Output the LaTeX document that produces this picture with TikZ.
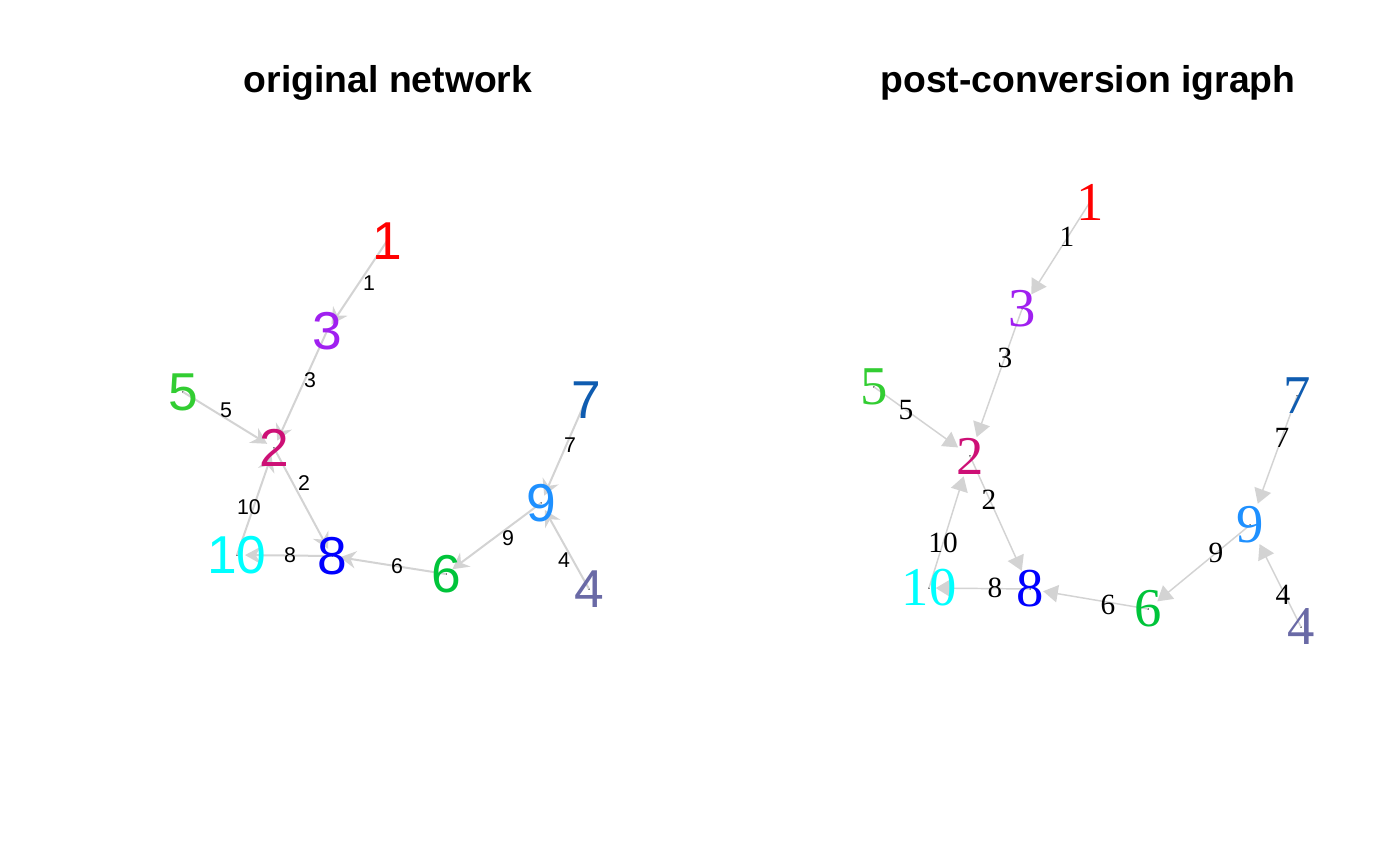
\documentclass[tikz,border=0pt]{standalone}
\usepackage{fontspec}
\setmainfont{Liberation Serif}
\setsansfont{Liberation Sans}
\usetikzlibrary{arrows.meta,backgrounds}

\definecolor{cone}{HTML}{FF0000}
\definecolor{ctwo}{HTML}{CD1076}
\definecolor{cthree}{HTML}{A020F0}
\definecolor{cfour}{HTML}{6A6AA6}
\definecolor{cfive}{HTML}{32CD32}
\definecolor{csix}{HTML}{00C43A}
\definecolor{cseven}{HTML}{0F5CB0}
\definecolor{ceight}{HTML}{0000FF}
\definecolor{cnine}{HTML}{1E90FF}
\definecolor{cten}{HTML}{00FFFF}
\definecolor{edgegray}{HTML}{D3D3D3}

\tikzset{
  title/.style={font=\sffamily\bfseries\fontsize{28}{28}\selectfont, anchor=base},
  lvert/.style={font=\sffamily\fontsize{40}{40}\selectfont, inner sep=0pt},
  rvert/.style={font=\rmfamily\fontsize{41}{41}\selectfont, inner sep=0pt},
  llab/.style={font=\sffamily\fontsize{16}{16}\selectfont, inner sep=0pt},
  rlab/.style={font=\rmfamily\fontsize{22}{22}\selectfont, inner sep=0pt},
  ledge/.style={edgegray, line width=1.5pt, shorten >=6pt, -{Stealth[length=12pt,width=13pt,inset=4pt]}},
  redge/.style={edgegray, line width=1.1pt, -{Triangle[length=11pt,width=13pt]}},
}

\begin{document}
\begin{tikzpicture}[x=0.75pt,y=-0.75pt]
	\useasboundingbox (0,0) rectangle (1400,866);

	\node[title] (ltitle) at (388,93) {original network};
	\node[title] (rtitle) at (1088,93) {post-conversion igraph};

	% original network
	\node[lvert, text=cone] (l1) at (387,241) {1};
	\node[lvert, text=ctwo] (l2) at (274,448) {2};
	\node[lvert, text=cthree] (l3) at (327,331) {3};
	\node[lvert, text=cfour] (l4) at (589,589) {4};
	\node[lvert, text=cfive] (l5) at (183,392) {5};
	\node[lvert, text=csix] (l6) at (446,574) {6};
	\node[lvert, text=cseven] (l7) at (586,400) {7};
	\node[lvert, text=ceight] (l8) at (332,556) {8};
	\node[lvert, text=cnine] (l9) at (541,503) {9};
	\node[lvert, text=cten] (l10) at (237,555) {10};

	\node[llab] (le1) at (369,283) {1};
	\node[llab] (le2) at (304,483) {2};
	\node[llab] (le3) at (310,380) {3};
	\node[llab] (le4) at (564,560) {4};
	\node[llab] (le5) at (226,410) {5};
	\node[llab] (le6) at (397,566) {6};
	\node[llab] (le7) at (570,445) {7};
	\node[llab] (le8) at (290,555) {8};
	\node[llab] (le9) at (508,538) {9};
	\node[llab] (le10) at (249,507) {10};

	% post-conversion igraph
	\node[rvert, text=cone] (r1) at (1090,202) {1};
	\node[rvert, text=ctwo] (r2) at (970,456) {2};
	\node[rvert, text=cthree] (r3) at (1022,309) {3};
	\node[rvert, text=cfour] (r4) at (1301,627) {4};
	\node[rvert, text=cfive] (r5) at (874,387) {5};
	\node[rvert, text=csix] (r6) at (1148,609) {6};
	\node[rvert, text=cseven] (r7) at (1297,396) {7};
	\node[rvert, text=ceight] (r8) at (1030,589) {8};
	\node[rvert, text=cnine] (r9) at (1250,525) {9};
	\node[rvert, text=cten] (r10) at (929,588) {10};

	\node[rlab] (re1) at (1067,237) {1};
	\node[rlab] (re2) at (989,500) {2};
	\node[rlab] (re3) at (1005,358) {3};
	\node[rlab] (re4) at (1283,595) {4};
	\node[rlab] (re5) at (906,410) {5};
	\node[rlab] (re6) at (1108,605) {6};
	\node[rlab] (re7) at (1282,438) {7};
	\node[rlab] (re8) at (995,588) {8};
	\node[rlab] (re9) at (1216,553) {9};
	\node[rlab] (re10) at (943,543) {10};

	\begin{pgfonlayer}{background}
	\foreach \v in {l1,l2,l3,l4,l5,l6,l7,l8,l9,l10,r1,r2,r3,r4,r5,r6,r7,r8,r9,r10}
		\fill (\v.center) circle (0.6pt);

	\draw[ledge] (l1.center) -- (l3.center);
	\draw[ledge] (l3.center) -- (l2.center);
	\draw[ledge] (l5.center) -- (l2.center);
	\draw[ledge] (l2.center) -- (l8.center);
	\draw[ledge] (l10.center) -- (l2.center);
	\draw[ledge] (l8.center) -- (l10.center);
	\draw[ledge] (l6.center) -- (l8.center);
	\draw[ledge] (l9.center) -- (l6.center);
	\draw[ledge] (l7.center) -- (l9.center);
	\draw[ledge] (l4.center) -- (l9.center);

	\draw[redge, shorten >=13pt] (r1.center) -- (r3.center);
	\draw[redge, shorten >=15pt] (r3.center) -- (r2.center);
	\draw[redge, shorten >=11pt] (r5.center) -- (r2.center);
	\draw[redge, shorten >=15pt] (r2.center) -- (r8.center);
	\draw[redge, shorten >=16pt] (r10.center) -- (r2.center);
	\draw[redge, shorten >=5pt] (r8.center) -- (r10.center);
	\draw[redge, shorten >=10pt] (r6.center) -- (r8.center);
	\draw[redge, shorten >=9pt] (r9.center) -- (r6.center);
	\draw[redge, shorten >=17pt] (r7.center) -- (r9.center);
	\draw[redge, shorten >=16pt] (r4.center) -- (r9.center);
	\end{pgfonlayer}
\end{tikzpicture}
\end{document}
